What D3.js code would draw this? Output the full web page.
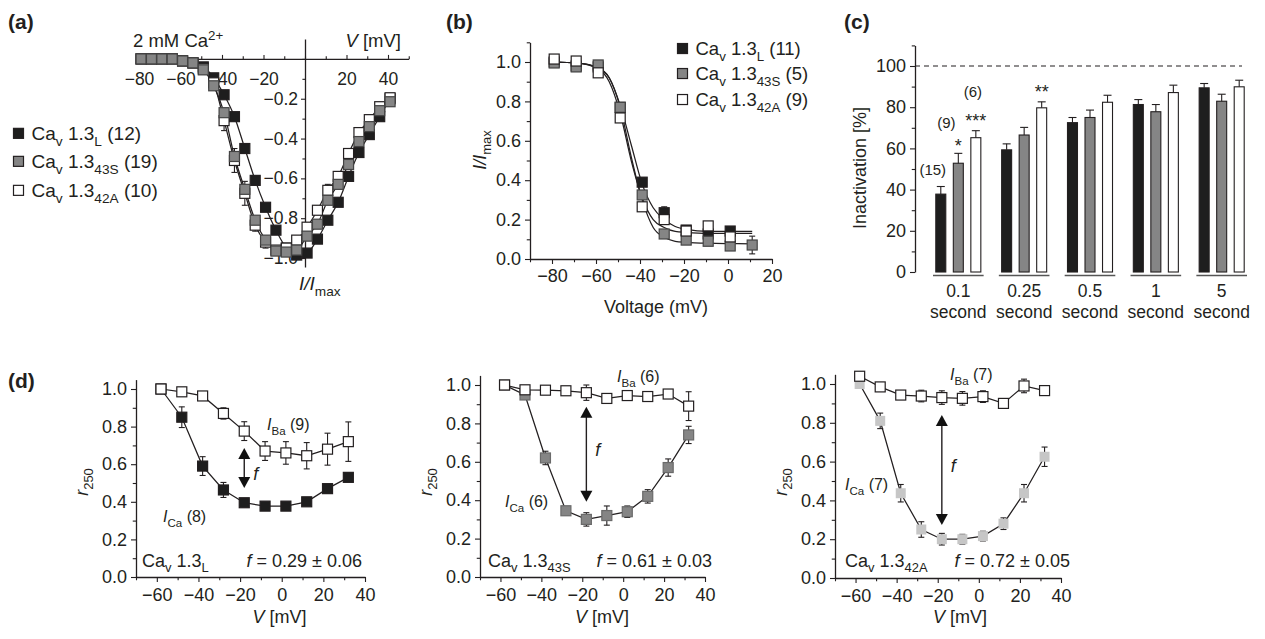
<!DOCTYPE html>
<meta charset="utf-8">
<style>
    body { margin: 0; background: #fff; }
    svg { font-family: "Liberation Sans", Arial, Helvetica, sans-serif; }
    text { fill: #231f20; }
</style>
<body>
<svg id="fig" width="1265" height="639"></svg>
<script src="https://cdn.jsdelivr.net/npm/d3@7/dist/d3.min.js"></script>
<script>
    // ---------- panel (a): normalised I-V curves
    var aV  = [-79,-74,-69,-64,-59,-54,-49,-44,-39,-34,-29,-24,-19,-14,-9,-4,1,6,11,16,21,26,31,36,41];
    var aL  = [0,0,0,0,-0.01,-0.02,-0.04,-0.095,-0.18,-0.29,-0.45,-0.61,-0.745,-0.86,-0.95,-0.985,-0.975,-0.905,-0.81,-0.72,-0.59,-0.47,-0.38,-0.29,-0.2];
    var aS  = [0,0,0,0,-0.01,-0.02,-0.055,-0.135,-0.27,-0.49,-0.655,-0.81,-0.91,-0.965,-0.97,-0.96,-0.89,-0.83,-0.71,-0.63,-0.53,-0.415,-0.34,-0.26,-0.215];
    var aA  = [0,0,0,0,-0.01,-0.02,-0.05,-0.12,-0.31,-0.51,-0.675,-0.835,-0.92,-0.96,-0.95,-0.91,-0.845,-0.76,-0.66,-0.59,-0.475,-0.37,-0.305,-0.24,-0.195];
    var aAErr = [0,0,0,0,0,0,0.01,0.02,0.05,0.06,0.06,0.03,0.03,0.02,0.02,0.02,0.02,0.02,0.03,0.02,0.02,0.02,0.02,0.02,0.02];
    var aN  = [12, 19, 10];

    // ---------- panel (b): steady-state inactivation
    var bV  = [-79,-69,-59,-49,-39,-29,-19,-9,1,11];
    var bL  = [1.0,0.98,0.975,0.77,0.39,0.235,0.147,0.127,0.142,null];
    var bS  = [0.995,0.975,0.985,0.77,0.325,0.127,0.096,0.09,0.066,0.071];
    var bA  = [1.015,1.005,0.945,0.716,0.265,0.2,0.142,0.168,0.112,null];
    var bLErr = [0,0,0,0.01,0.02,0.03,0.01,0.01,0.01,0];
    var bSErr = [0,0,0,0.01,0.01,0.01,0.01,0.01,0.01,0.045];
    var bAErr = [0,0,0,0,0,0.01,0.01,0.015,0.01,0];
    var bFitV = [-79,-69,-59,-54,-49,-44,-39,-34,-29,-24,-19,-9,1,11];
    var bFitL = [1.0,0.995,0.97,0.92,0.78,0.58,0.38,0.26,0.2,0.165,0.15,0.14,0.14,0.14];
    var bFitS = [1.0,0.995,0.97,0.92,0.77,0.52,0.3,0.16,0.11,0.09,0.085,0.08,0.078,0.077];
    var bFitA = [1.0,0.995,0.965,0.9,0.74,0.5,0.31,0.2,0.16,0.14,0.135,0.13,0.13,0.13];
    var bN  = [11, 5, 9];

    // ---------- panel (c): inactivation after prepulses
    var cGroups = ["0.1","0.25","0.5","1","5"];
    var cL = [37.8,59.3,72.5,81.3,89.4],  cLErr = [3.7,2.9,2.5,2.4,2.1];
    var cS = [52.8,66.5,75,77.8,82.9],    cSErr = [4.8,3.7,3.6,3.5,3.4];
    var cA = [65.2,79.7,82.4,87.1,89.9],  cAErr = [3.4,2.9,3.4,3.6,3.2];
    var cN = [15, 9, 6];
    var cStars = [["", "*", "***"], ["", "", "**"], ["","",""], ["","",""], ["","",""]];

    // ---------- panel (d): r250 values
    var dV = [-58,-48,-38,-28,-18,-8,2,12,22,32];
    var d1Ba = [1.0,0.985,0.963,0.87,0.776,0.67,0.66,0.645,0.68,0.72];
    var d1BaErr = [0,0.02,0.015,0.03,0.05,0.05,0.06,0.07,0.085,0.105];
    var d1Ca = [1.0,0.85,0.59,0.463,0.395,0.377,0.377,0.40,0.47,0.53];
    var d1CaErr = [0,0.055,0.05,0.04,0.01,0.01,0.01,0.01,0.01,0.01];
    var d2Ba = [1.0,0.975,0.973,0.97,0.96,0.93,0.945,0.94,0.953,0.89];
    var d2BaErr = [0,0.01,0.01,0.01,0.04,0.025,0.02,0.015,0.015,0.075];
    var d2Ca = [1.0,0.948,0.62,0.345,0.30,0.32,0.34,0.42,0.57,0.74];
    var d2CaErr = [0,0.01,0.035,0.02,0.035,0.05,0.03,0.035,0.045,0.045];
    var d3Ba = [1.04,0.985,0.943,0.938,0.93,0.926,0.935,0.90,0.99,0.966];
    var d3BaErr = [0,0.01,0.01,0.03,0.035,0.035,0.03,0.025,0.035,0.015];
    var d3Ca = [1.0,0.81,0.437,0.25,0.2,0.2,0.216,0.28,0.437,0.625];
    var d3CaErr = [0,0.04,0.045,0.04,0.03,0.025,0.025,0.03,0.045,0.05];
    var dArrowV = -18;
    var dArrowTop = [0.686, 0.887, 0.84];
    var dArrowBot = [0.473, 0.392, 0.273];
    var dNBa = [9, 6, 7], dNCa = [8, 6, 7];
    var dF = ["0.29 \u00b1 0.06", "0.61 \u00b1 0.03", "0.72 \u00b1 0.05"];

    var variants = ["L", "43S", "42A"];

    // ---------- styling
    var INK = "#231f20";
    var colL = "#1e1e1e", colS = "#858585", colA = "#ffffff", colA3 = "#c6c6c6";

    var svg = d3.select("#fig");

    // text with italic / subscript / superscript pieces
    function rich(g, x, y, parts, size, anchor, rot) {
        var t = g.append("text").attr("font-size", size).attr("text-anchor", anchor || "start");
        if (rot) t.attr("transform", "translate(" + x + "," + y + ") rotate(-90)");
        else t.attr("x", x).attr("y", y);
        var shift = 0;
        parts.forEach(function(p) {
            if (typeof p === "string") p = [p, ""];
            var ts = t.append("tspan").text(p[0]);
            var want = 0;
            if (p[1].indexOf("s") >= 0) want = size * 0.3;
            if (p[1].indexOf("u") >= 0) want = -size * 0.4;
            if (want !== 0) ts.attr("font-size", size * 0.72);
            if (p[1].indexOf("i") >= 0) ts.attr("font-style", "italic");
            if (want !== shift) { ts.attr("dy", want - shift); shift = want; }
        });
        return t;
    }

    function axis(g, orient, scale, values, isMajor, fmt, len, pad, fs) {
        var ax = (orient === "bottom" ? d3.axisBottom(scale) : d3.axisLeft(scale))
            .tickValues(values).tickSizeOuter(0).tickSizeInner(len).tickPadding(pad)
            .tickFormat(function(d) { return isMajor(d) ? fmt(d) : ""; });
        g.call(ax);
        g.attr("font-family", null).attr("font-size", fs).style("color", INK);
        g.select(".domain").attr("stroke-width", 1.3);
        g.selectAll(".tick line").attr("stroke-width", 1.1);
        g.selectAll(".tick").filter(function(d) { return !isMajor(d); }).select("line")
            .attr(orient === "bottom" ? "y2" : "x2", orient === "bottom" ? len * 0.65 : -len * 0.65);
        return g;
    }

    function points(g, xs, ys, xv, vals, errs, fill, stroke, size) {
        var pts = vals.map(function(v, i) { return {v: xv[i], r: v, e: errs ? errs[i] : 0}; })
            .filter(function(d) { return d.r != null; });
        var eb = g.append("g").attr("stroke", INK).attr("stroke-width", 1.1);
        pts.filter(function(d) { return d.e > 0; }).forEach(function(d) {
            var x = xs(d.v), y1 = ys(d.r - d.e), y2 = ys(d.r + d.e);
            eb.append("line").attr("x1", x).attr("x2", x).attr("y1", y1).attr("y2", y2);
            eb.append("line").attr("x1", x - 3).attr("x2", x + 3).attr("y1", y1).attr("y2", y1);
            eb.append("line").attr("x1", x - 3).attr("x2", x + 3).attr("y1", y2).attr("y2", y2);
        });
        g.append("g").selectAll("rect").data(pts).join("rect")
            .attr("x", function(d) { return xs(d.v) - size / 2; })
            .attr("y", function(d) { return ys(d.r) - size / 2; })
            .attr("width", size).attr("height", size)
            .attr("fill", fill).attr("stroke", stroke).attr("stroke-width", 1.2);
    }

    function curve(g, xs, ys, xv, vals, type) {
        var line = d3.line()
            .defined(function(d) { return d[1] != null; })
            .x(function(d) { return xs(d[0]); })
            .y(function(d) { return ys(d[1]); })
            .curve(type || d3.curveLinear);
        g.append("path").datum(xv.map(function(v, i) { return [v, vals[i]]; }))
            .attr("d", line).attr("fill", "none").attr("stroke", INK).attr("stroke-width", 1.25);
    }

    function legendRow(g, x, y, fill, sub, n, fs) {
        g.append("rect").attr("x", x - 5).attr("y", y - fs * 0.35 - 5).attr("width", 10).attr("height", 10)
            .attr("fill", fill).attr("stroke", INK).attr("stroke-width", 1.2);
        rich(g, x + 13, y, ["Ca", ["v", "s"], " 1.3", [sub, "s"], " (" + n + ")"], fs);
    }

    var fmt1 = d3.format(".1f"), fmt0 = d3.format("d");
    var tenth = function(d) { return Math.round(d * 10) % 2 === 0; };

    // panel letters
    [["(a)", 8, 29], ["(b)", 446, 29], ["(c)", 844, 29], ["(d)", 8, 388]].forEach(function(p) {
        svg.append("text").attr("x", p[1]).attr("y", p[2]).attr("font-size", 21)
            .attr("font-weight", "bold").text(p[0]);
    });

    // ================= panel (a)
    (function() {
        var g = svg.append("g");
        var x = d3.scaleLinear().domain([-80, 50]).range([139, 408.75]);
        var y = d3.scaleLinear().domain([-1.045, 0.1]).range([267, 39]);
        axis(g.append("g").attr("transform", "translate(0," + y(0) + ")"), "bottom", x,
            d3.range(-80, 51, 10), function(d) { return d % 20 === 0 && d !== 0 && d < 50; },
            fmt0, -4, 14, 17.5);
        axis(g.append("g").attr("transform", "translate(" + x(0) + ",0)"), "left", y,
            d3.range(-10, 1).map(function(i) { return i / 10; }),
            function(d) { return tenth(d) && d !== 0; }, fmt1, 4, 3, 17.5);
        curve(g, x, y, aV, aL, d3.curveMonotoneX);
        curve(g, x, y, aV, aS, d3.curveMonotoneX);
        curve(g, x, y, aV, aA, d3.curveMonotoneX);
        points(g, x, y, aV, aL, null, colL, INK, 10);
        points(g, x, y, aV, aA, aAErr, colA, INK, 10);
        points(g, x, y, aV, aS, null, colS, "#444", 10);
        rich(g, 133, 47, ["2 mM Ca", ["2+", "u"]], 18.5);
        rich(g, 401, 47, [["V", "i"], " [mV]"], 18.5, "end");
        rich(g, 299, 290, [["I/I", "i"], ["max", "s"]], 19);
        legendRow(g, 18.5, 140, colL, variants[0], aN[0], 19);
        legendRow(g, 18.5, 168, colS, variants[1], aN[1], 19);
        legendRow(g, 18.5, 197, colA, variants[2], aN[2], 19);
    })();

    // ================= panel (b)
    (function() {
        var g = svg.append("g");
        var x = d3.scaleLinear().domain([-90, 20]).range([530, 772]);
        var y = d3.scaleLinear().domain([0, 1.1]).range([259, 42.3]);
        axis(g.append("g").attr("transform", "translate(0," + y(0) + ")"), "bottom", x,
            d3.range(-90, 21, 10), function(d) { return d % 20 === 0; }, fmt0, 5, 5, 18);
        axis(g.append("g").attr("transform", "translate(" + x(-90) + ",0)"), "left", y,
            d3.range(0, 12).map(function(i) { return i / 10; }),
            function(d) { return tenth(d) && d <= 1; }, fmt1, 5, 4, 18);
        curve(g, x, y, bFitV, bFitL, d3.curveMonotoneX);
        curve(g, x, y, bFitV, bFitS, d3.curveMonotoneX);
        curve(g, x, y, bFitV, bFitA, d3.curveMonotoneX);
        points(g, x, y, bV, bL, bLErr, colL, INK, 10);
        points(g, x, y, bV, bS, bSErr, colS, "#444", 10);
        points(g, x, y, bV, bA, bAErr, colA, INK, 10);
        rich(g, 486, 150, [["I/I", "i"], ["max", "s"]], 18, "middle", true);
        g.append("text").attr("x", 656).attr("y", 313).attr("font-size", 18)
            .attr("text-anchor", "middle").text("Voltage (mV)");
        legendRow(g, 682.5, 55, colL, variants[0], bN[0], 18.5);
        legendRow(g, 682.5, 80, colS, variants[1], bN[1], 18.5);
        legendRow(g, 682.5, 106, colA, variants[2], bN[2], 18.5);
    })();

    // ================= panel (c)
    (function() {
        var g = svg.append("g");
        var y = d3.scaleLinear().domain([0, 110]).range([272, 45.4]);
        var x0 = d3.scaleBand().domain(cGroups).range([933, 1247]).paddingInner(0.231).paddingOuter(0);
        var x1 = d3.scaleBand().domain(variants).range([0, x0.bandwidth()]).paddingInner(0.43).paddingOuter(0.16);
        axis(g.append("g").attr("transform", "translate(915,0)"), "left", y,
            d3.range(0, 111, 10), function(d) { return d % 20 === 0 && d <= 100; }, fmt0, 5, 4, 18);
        g.append("line").attr("x1", 915).attr("x2", 1242).attr("y1", y(100)).attr("y2", y(100))
            .attr("stroke", INK).attr("stroke-width", 1.1).attr("stroke-dasharray", "5,4");
        rich(g, 866, 168, ["Inactivation [%]"], 18, "middle", true);

        var series = [[cL, cLErr, colL], [cS, cSErr, colS], [cA, cAErr, colA]];
        cGroups.forEach(function(grp, gi) {
            var gx = x0(grp);
            series.forEach(function(s, si) {
                var bx = gx + x1(variants[si]), bw = x1.bandwidth(), v = s[0][gi], e = s[1][gi];
                g.append("rect").attr("x", bx).attr("y", y(v)).attr("width", bw).attr("height", y(0) - y(v))
                    .attr("fill", s[2]).attr("stroke", INK).attr("stroke-width", 1.1);
                var cxm = bx + bw / 2;
                g.append("line").attr("x1", cxm).attr("x2", cxm).attr("y1", y(v)).attr("y2", y(v + e))
                    .attr("stroke", INK).attr("stroke-width", 1.1);
                g.append("line").attr("x1", cxm - 4).attr("x2", cxm + 4).attr("y1", y(v + e)).attr("y2", y(v + e))
                    .attr("stroke", INK).attr("stroke-width", 1.1);
                var star = cStars[gi][si];
                if (star) {
                    g.append("text").attr("x", cxm).attr("y", y(v + e) - (star.length === 1 ? 1 : 4))
                        .attr("font-size", 18).attr("text-anchor", "middle").text(star);
                }
            });
            g.append("line").attr("x1", gx).attr("x2", gx + x0.bandwidth()).attr("y1", 275.5).attr("y2", 275.5)
                .attr("stroke", "#555").attr("stroke-width", 1.6);
            g.append("text").attr("x", gx + x0.bandwidth() / 2).attr("y", 297).attr("font-size", 17.5)
                .attr("text-anchor", "middle").text(grp);
            g.append("text").attr("x", gx + x0.bandwidth() / 2).attr("y", 318).attr("font-size", 17.5)
                .attr("text-anchor", "middle").text("second");
        });
        // sample sizes above the first group
        var g0 = x0(cGroups[0]), bw = x1.bandwidth();
        var nPos = [[g0 + x1("L") + bw / 2 - 8, y(cL[0] + cLErr[0]) - 12],
                    [g0 + x1("43S") + bw / 2 - 12, y(cS[0] + cSErr[0]) - 25],
                    [g0 + x1("42A") + bw / 2 - 3, y(cA[0] + cAErr[0]) - 34]];
        cN.forEach(function(n, i) {
            g.append("text").attr("x", nPos[i][0]).attr("y", nPos[i][1]).attr("font-size", 15)
                .attr("text-anchor", "middle").text("(" + n + ")");
        });
    })();

    // ================= panel (d)
    var dLayout = [
        {x0: 136, x1: 365, y0: 577, y1: 389, ba: [267, 430], ca: [163, 522], name: [142, 567], fEnd: 362, xlab: 279.5, ylab: 88, fDy: 12},
        {x0: 480, x1: 705, y0: 577, y1: 385, ba: [617, 382], ca: [505, 507], name: [488, 567], fEnd: 712, xlab: 602, ylab: 432, fDy: 2},
        {x0: 835, x1: 1061, y0: 578, y1: 384, ba: [950, 380], ca: [845, 490], name: [845, 567], fEnd: 1070, xlab: 960, ylab: 787, fDy: 2}
    ];
    var dBa = [d1Ba, d2Ba, d3Ba], dBaErr = [d1BaErr, d2BaErr, d3BaErr];
    var dCa = [d1Ca, d2Ca, d3Ca], dCaErr = [d1CaErr, d2CaErr, d3CaErr];
    var dCaFill = [colL, colS, colA3];

    dLayout.forEach(function(L, k) {
        var g = svg.append("g");
        var x = d3.scaleLinear().domain([-70, 40]).range([L.x0, L.x1]);
        var y = d3.scaleLinear().domain([0, 1]).range([L.y0, L.y1]);
        var yTop = 1.05;
        var ys = d3.scaleLinear().domain([0, yTop]).range([L.y0, y(yTop)]);
        axis(g.append("g").attr("transform", "translate(0," + L.y0 + ")"), "bottom", x,
            d3.range(-70, 41, 10), function(d) { return d % 20 === 0; }, fmt0, 5, 6, 18);
        axis(g.append("g").attr("transform", "translate(" + L.x0 + ",0)"), "left", ys,
            d3.range(0, 11).map(function(i) { return i / 10; }), tenth, fmt1, 5, 4, 18);

        curve(g, x, y, dV, dCa[k]);
        curve(g, x, y, dV, dBa[k]);
        points(g, x, y, dV, dCa[k], dCaErr[k], dCaFill[k], k === 2 ? "none" : (k === 1 ? "#6a6a6a" : INK), 10);
        points(g, x, y, dV, dBa[k], dBaErr[k], colA, INK, 10);

        // double-headed arrow marking f
        var ax = x(dArrowV), ta = y(dArrowTop[k]), tb = y(dArrowBot[k]);
        g.append("line").attr("x1", ax).attr("x2", ax).attr("y1", ta + 8).attr("y2", tb - 8)
            .attr("stroke", INK).attr("stroke-width", 1.4);
        g.append("path").attr("d", "M" + ax + "," + ta + "L" + (ax - 6) + "," + (ta + 11) + "L" + (ax + 6) + "," + (ta + 11) + "Z")
            .attr("fill", "#111");
        g.append("path").attr("d", "M" + ax + "," + tb + "L" + (ax - 6) + "," + (tb - 11) + "L" + (ax + 6) + "," + (tb - 11) + "Z")
            .attr("fill", "#111");
        rich(g, ax + 9, (ta + tb) / 2 + L.fDy, [["f", "i"]], 18);

        rich(g, L.ba[0], L.ba[1], [["I", "i"], ["Ba", "s"], " (" + dNBa[k] + ")"], 16);
        rich(g, L.ca[0], L.ca[1], [["I", "i"], ["Ca", "s"], " (" + dNCa[k] + ")"], 16);
        rich(g, L.name[0], L.name[1], ["Ca", ["v", "s"], " 1.3", [variants[k], "s"]], 18);
        rich(g, L.fEnd, L.name[1], [["f", "i"], " = " + dF[k]], 18, "end");
        rich(g, L.xlab, 623, [["V", "i"], " [mV]"], 18, "middle");
        rich(g, L.ylab, 482, [["r", "i"], ["250", "s"]], 18, "middle", true);
    });
</script>
</body>
